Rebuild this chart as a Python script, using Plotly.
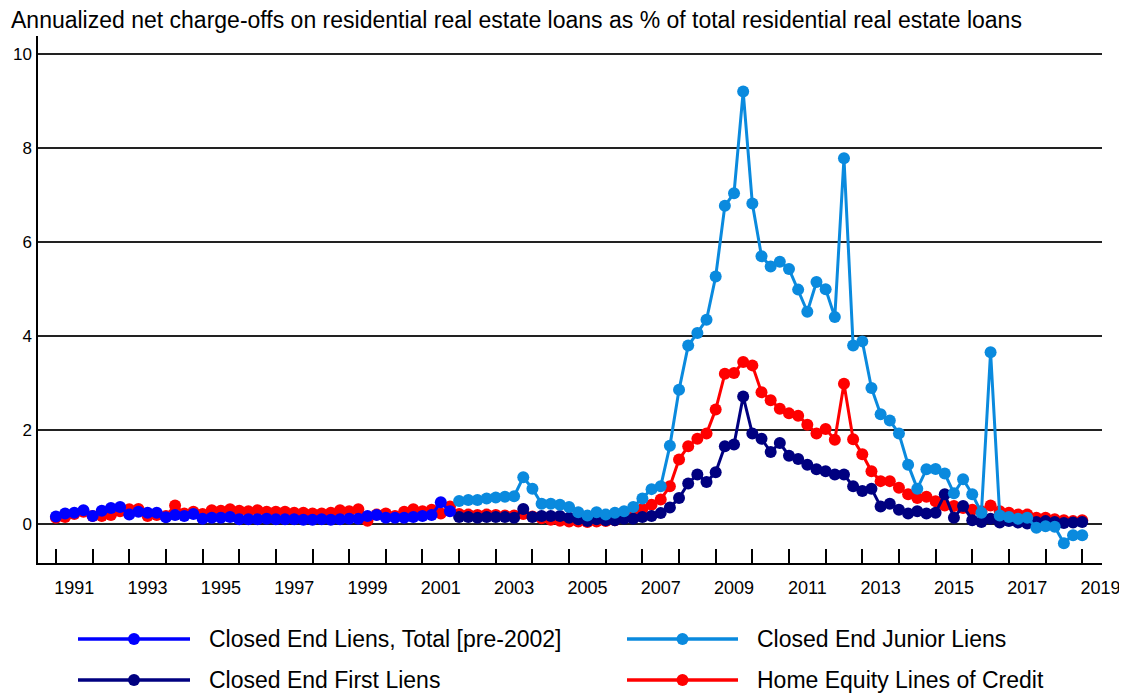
import plotly.graph_objects as go

# ---------------- data (quarterly, starting 1991 Q1) ----------------
start_year = 1991
junior_start_index = 44  # 2002 Q1

total_pre2002 = [0.17, 0.23, 0.25, 0.30, 0.18, 0.29, 0.35, 0.37, 0.21, 0.27, 0.25, 0.25,
                 0.15, 0.20, 0.18, 0.22, 0.12, 0.14, 0.14, 0.16, 0.11, 0.11, 0.11, 0.12,
                 0.11, 0.11, 0.11, 0.10, 0.10, 0.11, 0.10, 0.11, 0.12, 0.12, 0.18, 0.20,
                 0.14, 0.14, 0.14, 0.16, 0.18, 0.20, 0.47, 0.28]

junior_liens = [0.50, 0.52, 0.52, 0.55, 0.57, 0.59, 0.60, 1.00, 0.76, 0.44, 0.44, 0.42,
                0.37, 0.26, 0.19, 0.26, 0.21, 0.25, 0.28, 0.37, 0.55, 0.75, 0.81, 1.67,
                2.86, 3.80, 4.07, 4.35, 5.27, 6.77, 7.04, 9.20, 6.82, 5.70, 5.48, 5.58,
                5.43, 4.99, 4.52, 5.15, 5.00, 4.41, 7.78, 3.80, 3.89, 2.90, 2.34, 2.21,
                1.93, 1.27, 0.76, 1.17, 1.18, 1.08, 0.66, 0.96, 0.64, 0.25, 3.66, 0.19,
                0.16, 0.12, 0.14, -0.07, -0.04, -0.05, -0.40, -0.23, -0.23]

first_liens = [0.16, 0.16, 0.14, 0.16, 0.16, 0.16, 0.14, 0.33, 0.16, 0.18, 0.18, 0.18,
               0.14, 0.11, 0.07, 0.11, 0.09, 0.09, 0.12, 0.12, 0.16, 0.18, 0.24, 0.36,
               0.56, 0.87, 1.06, 0.90, 1.11, 1.66, 1.70, 2.72, 1.93, 1.82, 1.54, 1.73,
               1.46, 1.39, 1.27, 1.17, 1.13, 1.06, 1.06, 0.81, 0.71, 0.76, 0.38, 0.44,
               0.31, 0.23, 0.28, 0.23, 0.25, 0.64, 0.14, 0.39, 0.09, 0.05, 0.12, 0.04,
               0.07, 0.04, 0.02, 0.05, 0.07, 0.05, 0.03, 0.04, 0.05]

heloc = [0.14, 0.16, 0.22, 0.27, 0.18, 0.18, 0.20, 0.28, 0.32, 0.33, 0.18, 0.20,
         0.18, 0.40, 0.23, 0.27, 0.22, 0.30, 0.29, 0.32, 0.29, 0.28, 0.30, 0.27,
         0.27, 0.27, 0.25, 0.25, 0.23, 0.23, 0.25, 0.30, 0.28, 0.32, 0.08, 0.21,
         0.23, 0.18, 0.27, 0.32, 0.28, 0.31, 0.23, 0.38,
         0.22, 0.21, 0.20, 0.21, 0.20, 0.19, 0.19, 0.22, 0.17, 0.13, 0.10, 0.08,
         0.06, 0.06, 0.05, 0.06, 0.07, 0.09, 0.14, 0.22, 0.33, 0.42, 0.53, 0.81,
         1.38, 1.66, 1.82, 1.93, 2.44, 3.20, 3.22, 3.45, 3.38, 2.81, 2.64, 2.46,
         2.36, 2.31, 2.12, 1.93, 2.03, 1.80, 2.99, 1.81, 1.49, 1.13, 0.92, 0.92,
         0.78, 0.64, 0.56, 0.59, 0.49, 0.40, 0.39, 0.35, 0.31, 0.28, 0.40, 0.28,
         0.25, 0.21, 0.21, 0.14, 0.14, 0.11, 0.09, 0.07, 0.09]

series_names = ["Closed End Liens, Total [pre-2002]", "Closed End Junior Liens",
                "Closed End First Liens", "Home Equity Lines of Credit"]
series_colors = ["#0000ff", "#0a8ade", "#000080", "#ff0000"]

label_years = list(range(1991, 2020, 2))
tick_years = list(range(1991, 2020))

title_text = ("Annualized net charge-offs on residential real estate loans "
              "as % of total residential real estate loans")


def quarter_x(offset, n):
    return [start_year + (offset + k) / 4.0 for k in range(n)]


# ---------------- figure ----------------
# the page body has an 8px margin, so the figure is drawn 8px smaller
# and every page position below is shifted by -8.
FONT = "Arial, Liberation Sans, sans-serif"
OFF = 8
W, H = 1127 - OFF, 693 - OFF
L, T = 38 - OFF, 36 - OFF
PLOT_RIGHT, PLOT_BOTTOM = 1102 - OFF, 563 - OFF
R, B = W - PLOT_RIGHT, H - PLOT_BOTTOM
PW, PH = PLOT_RIGHT - L, PLOT_BOTTOM - T

fig = go.Figure()

traces = [
    (3, heloc, 0),
    (2, first_liens, junior_start_index),
    (1, junior_liens, junior_start_index),
    (0, total_pre2002, 0),
]
for idx, vals, off in traces:
    fig.add_trace(go.Scatter(
        x=quarter_x(off, len(vals)), y=vals, mode="lines+markers",
        name=series_names[idx],
        line=dict(color=series_colors[idx], width=3),
        marker=dict(color=series_colors[idx], size=12),
        showlegend=False,
    ))


def px_x(p):
    return (p - OFF - L) / PW


def px_y(p):
    return (PLOT_BOTTOM - (p - OFF)) / PH


# title as an annotation (page position: left 9, middle 20)
fig.add_annotation(xref="paper", yref="paper", x=px_x(9), y=px_y(20),
                   xanchor="left", yanchor="middle", showarrow=False,
                   text=title_text,
                   font=dict(family=FONT, size=23, color="black"))

# manual legend (two columns, two rows) -- page pixel positions
legend_pos = [(78, 190, 207, 639), (627, 738, 755, 639),
              (78, 190, 207, 680), (627, 738, 755, 680)]
for idx, (lx0, lx1, tx, ly) in enumerate(legend_pos):
    c = series_colors[idx]
    fig.add_shape(type="line", xref="paper", yref="paper",
                  x0=px_x(lx0), x1=px_x(lx1), y0=px_y(ly), y1=px_y(ly),
                  line=dict(color=c, width=3.5))
    fig.add_shape(type="circle", xref="paper", yref="paper",
                  xsizemode="pixel", ysizemode="pixel",
                  xanchor=px_x((lx0 + lx1) / 2), yanchor=px_y(ly),
                  x0=-6, x1=6, y0=-6, y1=6,
                  fillcolor=c, line=dict(color=c, width=0))
    fig.add_annotation(xref="paper", yref="paper", x=px_x(tx), y=px_y(ly),
                       xanchor="left", yanchor="middle", showarrow=False,
                       text=series_names[idx],
                       font=dict(family=FONT, size=23, color="black"))

fig.update_layout(
    width=W, height=H,
    margin=dict(l=L, r=R, t=T, b=B, autoexpand=False),
    paper_bgcolor="white", plot_bgcolor="white",
    font=dict(family=FONT, color="black"),
    showlegend=False,
)

fig.update_xaxes(
    range=[1990.51, 2019.54],
    tickmode="array",
    tickvals=[y + 0.5 for y in label_years],
    ticktext=[str(y) for y in label_years],
    ticks="", ticklen=0,
    tickfont=dict(family=FONT, size=18, color="black"),
    ticklabelstandoff=8,
    showgrid=False, zeroline=False,
    showline=True, linecolor="black", linewidth=1.5,
    minor=dict(tickmode="array", tickvals=tick_years, ticks="inside",
               ticklen=14, tickwidth=1.5, tickcolor="black", showgrid=False),
)

fig.update_yaxes(
    range=[-0.82, 10.38],
    tickmode="array", tickvals=[0, 2, 4, 6, 8, 10],
    ticks="",
    tickfont=dict(family=FONT, size=17, color="black"),
    ticklabelstandoff=1,
    showgrid=True, gridcolor="#222222", gridwidth=1.5,
    zeroline=True, zerolinecolor="#222222", zerolinewidth=1.5,
    showline=True, linecolor="black", linewidth=1.5,
)

fig.write_html("out.html")
